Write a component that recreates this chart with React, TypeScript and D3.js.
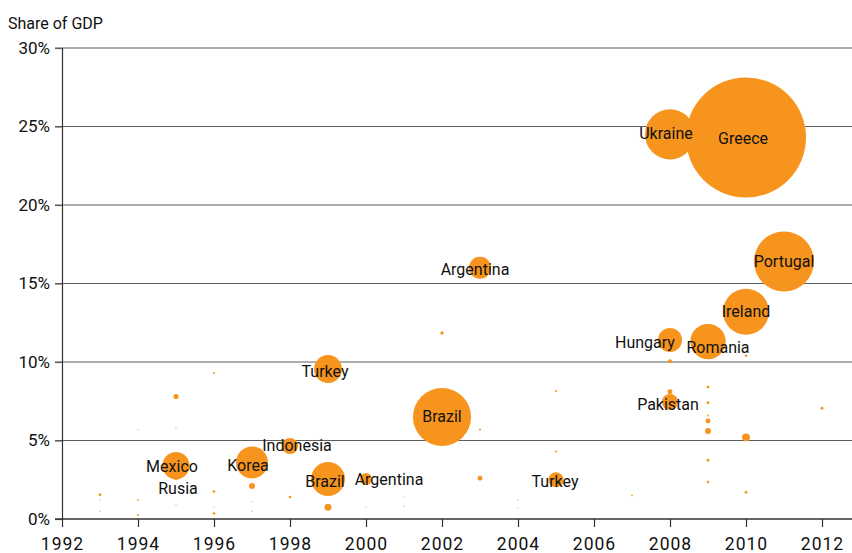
import React, { useEffect, useRef } from "react";
import * as d3 from "d3";

// crisis episodes: year, share of GDP (%), relative size (bubble area)
const years = [
  2010, 2008, 2011, 2010, 2009, 2008, 2008, 2003, 1999, 2002, 1999, 1997, 1995, 1995, 1998, 2000, 2005,
];
const shares = [
  24.3, 24.5, 16.4, 13.2, 11.3, 11.4, 7.45, 16.0, 9.55, 6.5, 2.55, 3.6, 3.4, 2.8, 4.65, 2.55, 2.5,
];
const sizes = [
  100, 17.4, 25, 14.7, 8.7, 4.0, 1.8, 3.4, 5.4, 23.4, 8.0, 7.1, 5.1, 0.7, 1.8, 1.0, 1.6,
];
const names = [
  "Greece", "Ukraine", "Portugal", "Ireland", "Romania", "Hungary", "Pakistan", "Argentina",
  "Turkey", "Brazil", "Brazil", "Korea", "Mexico", "Rusia", "Indonesia", "Argentina", "Turkey",
];

// smaller unlabelled programmes
const dotYears = [
  1995, 1996, 1994, 1995, 1993, 1993, 1993, 1994, 1994, 1995, 1996, 1996, 1996, 1997, 1997, 1997,
  1998, 1999, 2000, 2001, 2001, 2002, 2003, 2003, 2004, 2004, 2005, 2005, 2007, 2008, 2008, 2009,
  2009, 2009, 2009, 2009, 2009, 2009, 2010, 2010, 2010, 2012,
];
const dotShares = [
  7.8, 9.3, 5.7, 5.8, 1.55, 1.2, 0.5, 1.2, 0.25, 0.9, 1.75, 0.75, 0.35, 2.1, 1.1, 0.5,
  1.4, 0.75, 0.75, 1.4, 0.8, 11.85, 5.7, 2.6, 1.2, 0.7, 8.15, 4.3, 1.5, 10.05, 8.1, 8.4,
  7.4, 6.6, 6.25, 5.6, 3.75, 2.35, 10.4, 5.2, 1.7, 7.05,
];
const dotSizes = [
  0.18, 0.03, 0.01, 0.01, 0.05, 0.01, 0.01, 0.02, 0.03, 0.01, 0.05, 0.01, 0.05, 0.25, 0.01, 0.01,
  0.05, 0.34, 0.01, 0.01, 0.01, 0.08, 0.03, 0.17, 0.01, 0.01, 0.03, 0.03, 0.02, 0.11, 0.17, 0.06,
  0.06, 0.02, 0.17, 0.25, 0.06, 0.05, 0.05, 0.44, 0.05, 0.06,
];

const yTicks = [0, 5, 10, 15, 20, 25, 30];
const xTicks = [1992, 1994, 1996, 1998, 2000, 2002, 2004, 2006, 2008, 2010, 2012];

// label nudges (px) relative to bubble centre
const labelShift: Record<string, [number, number]> = {
  "Greece-2010": [-3, 1],
  "Ukraine-2008": [-4, -1],
  "Romania-2009": [10, 6],
  "Hungary-2008": [-25, 2],
  "Pakistan-2008": [-2, 2],
  "Argentina-2003": [-5, 2],
  "Turkey-1999": [-3, 2],
  "Brazil-1999": [-3, 3],
  "Korea-1997": [-4, 3],
  "Mexico-1995": [-4, 1],
  "Rusia-1995": [2, 13],
  "Indonesia-1998": [7, 0],
  "Argentina-2000": [23, 1],
  "Turkey-2005": [-1, 2],
};

const W = 852;
const H = 553;
const ORANGE = "#F7941D";
const FONT = "Roboto, 'DejaVu Sans', sans-serif";

export default function App() {
  const ref = useRef<SVGSVGElement>(null);

  useEffect(() => {
    const svg = d3.select(ref.current);
    svg.selectAll("*").remove();

    const x = d3.scaleLinear().domain([1992, 2012]).range([62, 822]);
    const y = d3.scaleLinear().domain([0, 30]).range([519, 48]);
    const r = d3.scaleSqrt().domain([0, 100]).range([0, 60]);

    // gridlines
    svg
      .append("g")
      .selectAll("line")
      .data(yTicks.filter((t) => t > 0))
      .join("line")
      .attr("x1", 55)
      .attr("x2", W)
      .attr("y1", (d) => y(d))
      .attr("y2", (d) => y(d))
      .attr("stroke", "#5e5e5e")
      .attr("stroke-width", 1.2);

    // axes
    const yAxis = svg
      .append("g")
      .attr("transform", `translate(${x(1992)},0)`)
      .call(
        d3
          .axisLeft(y)
          .tickValues(yTicks)
          .tickSize(7)
          .tickFormat((d) => `${d}%`)
      );
    yAxis.select(".domain").attr("stroke", "#333").attr("stroke-width", 1.2);
    yAxis.selectAll(".tick line").attr("stroke", "#5e5e5e").attr("stroke-width", 1.2);
    yAxis
      .selectAll("text")
      .attr("x", -12)
      .attr("font-family", FONT)
      .attr("font-size", 17)
      .attr("fill", "#111");

    const xAxis = svg
      .append("g")
      .attr("transform", `translate(0,${y(0)})`)
      .call(d3.axisBottom(x).tickValues(xTicks).tickSize(8).tickFormat(d3.format("d")));
    xAxis.select(".domain").remove();
    xAxis.selectAll(".tick line").attr("stroke", "#333").attr("stroke-width", 1.2);
    xAxis
      .selectAll("text")
      .attr("y", 19)
      .attr("font-family", FONT)
      .attr("font-size", 17.5)
      .attr("letter-spacing", 1)
      .attr("fill", "#111");
    svg
      .append("line")
      .attr("x1", 55)
      .attr("x2", W)
      .attr("y1", y(0))
      .attr("y2", y(0))
      .attr("stroke", "#333")
      .attr("stroke-width", 1.4);

    svg
      .append("text")
      .attr("x", 8)
      .attr("y", 29)
      .attr("font-family", FONT)
      .attr("font-size", 16)
      .attr("fill", "#111")
      .text("Share of GDP");

    // small dots
    svg
      .append("g")
      .selectAll("circle")
      .data(dotYears.map((yr, i) => ({ yr, v: dotShares[i], s: dotSizes[i] })))
      .join("circle")
      .attr("cx", (d) => x(d.yr))
      .attr("cy", (d) => y(d.v))
      .attr("r", (d) => r(d.s))
      .attr("fill", ORANGE);

    const bubbles = years.map((yr, i) => ({
      yr,
      v: shares[i],
      s: sizes[i],
      name: names[i],
    }));

    svg
      .append("g")
      .selectAll("circle")
      .data(bubbles)
      .join("circle")
      .attr("cx", (d) => x(d.yr))
      .attr("cy", (d) => y(d.v))
      .attr("r", (d) => r(d.s))
      .attr("fill", ORANGE);

    svg
      .append("g")
      .selectAll("text")
      .data(bubbles)
      .join("text")
      .attr("x", (d) => x(d.yr) + (labelShift[`${d.name}-${d.yr}`] || [0, 0])[0])
      .attr("y", (d) => y(d.v) + (labelShift[`${d.name}-${d.yr}`] || [0, 0])[1])
      .attr("text-anchor", "middle")
      .attr("dominant-baseline", "central")
      .attr("font-family", FONT)
      .attr("font-size", 16)
      .attr("fill", "#111")
      .text((d) => d.name);
  }, []);

  return (
    <svg
      ref={ref}
      width={W}
      height={H}
      style={{ position: "absolute", left: 0, top: 0, background: "#fff" }}
    />
  );
}
